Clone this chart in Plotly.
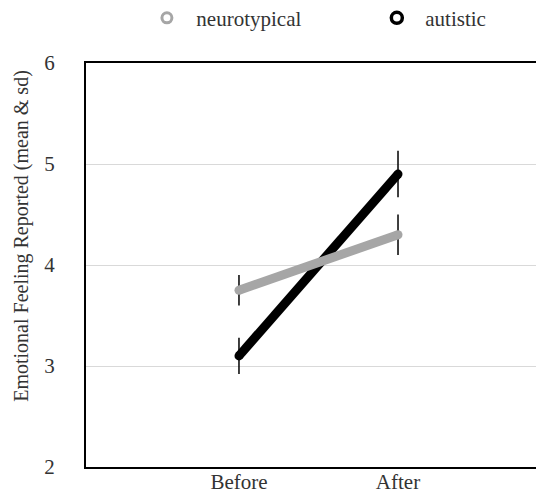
import plotly.graph_objects as go

conditions = ["Before", "After"]
neuro_mean = [3.75, 4.3]
neuro_sd = [0.15, 0.2]
autistic_mean = [3.1, 4.9]
autistic_sd = [0.18, 0.23]
y_ticks = [2, 3, 4, 5, 6]

GRAY = "#a6a6a6"
BLACK = "#000000"
FONT = "Liberation Serif"
TXT = "#333333"

fig = go.Figure()

# autistic drawn first so neurotypical sits on top (as in reference)
fig.add_trace(go.Scatter(
    x=conditions, y=autistic_mean, mode="lines+markers",
    line=dict(color=BLACK, width=9),
    marker=dict(color=BLACK, size=9),
    error_y=dict(type="data", array=autistic_sd, color=BLACK, thickness=1.5, width=0),
    showlegend=False,
))
fig.add_trace(go.Scatter(
    x=conditions, y=neuro_mean, mode="lines+markers",
    line=dict(color=GRAY, width=9),
    marker=dict(color=GRAY, size=9),
    error_y=dict(type="data", array=neuro_sd, color=BLACK, thickness=1.5, width=0),
    showlegend=False,
))

# legend entries
fig.add_trace(go.Scatter(
    x=[None], y=[None], mode="markers", name="\u00a0\u2009neurotypical",
    marker=dict(symbol="circle-open", color=GRAY, size=10, line=dict(width=3, color=GRAY)),
    legend="legend",
))
fig.add_trace(go.Scatter(
    x=[None], y=[None], mode="markers", name="\u2009\u2009autistic",
    marker=dict(symbol="circle-open", color=BLACK, size=11, line=dict(width=3.5, color=BLACK)),
    legend="legend2",
))

legend_common = dict(
    orientation="h", yanchor="middle", xanchor="left",
    font=dict(family=FONT, size=21, color=TXT),
    bgcolor="rgba(0,0,0,0)", borderwidth=0,
)

fig.update_layout(
    width=536, height=486,
    margin=dict(l=78, r=0, t=55, b=27, autoexpand=False),
    paper_bgcolor="white", plot_bgcolor="white",
    font=dict(family=FONT, size=21, color=TXT),
    legend=dict(x=0.133, y=1.111, **legend_common),
    legend2=dict(x=0.635, y=1.111, **legend_common),
    xaxis=dict(
        type="category", range=[-0.962, 1.918],
        showline=True, linecolor=BLACK, linewidth=2, mirror=True,
        showgrid=False, ticks="", zeroline=False, automargin=False,
        ticklabelstandoff=-5,
        tickfont=dict(family=FONT, size=21, color=TXT),
    ),
    yaxis=dict(
        range=[2, 6], tickvals=y_ticks,
        showline=True, linecolor=BLACK, linewidth=2,
        showgrid=True, gridcolor="#d9d9d9", gridwidth=1,
        ticks="", zeroline=False, ticklabelstandoff=25, automargin=False,
        tickfont=dict(family=FONT, size=21, color=TXT),
    ),
    annotations=[dict(
        text="Emotional Feeling Reported (mean &amp; sd)",
        xref="paper", yref="paper", x=-0.14, y=0.572,
        xanchor="center", yanchor="middle", textangle=-90, showarrow=False,
        font=dict(family=FONT, size=20, color=TXT),
    )],
)

fig.write_html("out.html")
